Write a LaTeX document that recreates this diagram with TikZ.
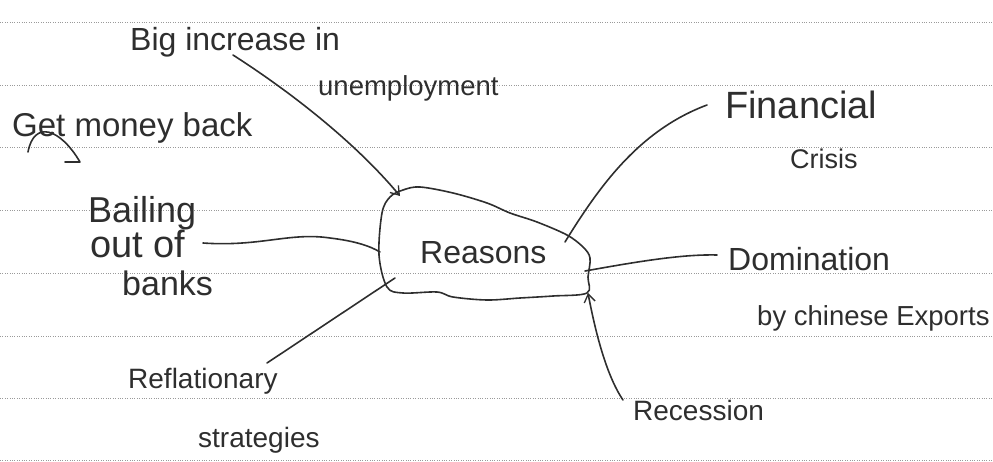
\documentclass[tikz,border=0pt]{standalone}
\usepackage{fontspec}
\setmainfont{Liberation Sans}
\usetikzlibrary{arrows.meta}
\definecolor{ink}{HTML}{2E2E2E}
\definecolor{rulec}{HTML}{9A9A9A}
\newcommand\hsz[1]{\fontsize{#1}{#1}\selectfont}
\begin{document}
\begin{tikzpicture}[x=1pt,y=-1pt,
  hand/.style={anchor=base west, inner sep=0pt, text=ink},
  link/.style={draw=ink, line width=1.6pt, line cap=round, line join=round},
  ruled/.style={draw=rulec, line width=0.8pt, dash pattern=on 0.8pt off 1.6pt},
  barb/.style={-{Straight Barb[length=8pt,width=11pt,line width=1.3pt]}}]
\useasboundingbox (0,0) rectangle (993,461);
\foreach \yy in {22,85,147,210,273,336,398,460} \draw[ruled] (0,\yy) -- (993,\yy);

% central blob
\draw[link] plot[smooth cycle, tension=0.55] coordinates {(382,213) (390,197) (403,190) (420,187) (453,193) (487,203) (510,213) (537,222) (567,235) (583,247) (590,258) (588,277) (587,293) (553,296) (520,298) (487,300) (453,297) (437,292) (403,293) (387,287) (379,255)};
\node[hand] (reasons) at (420,263) {\hsz{32}Reasons};

% texts
\node[hand] (big1) at (130,50) {\hsz{32}Big increase in};
\node[hand] (big2) at (318,95) {\hsz{27.5}unemployment};
\node[hand] (get) at (12,136) {\hsz{33}Get money back};
\node[hand] (bail1) at (88,222) {\hsz{36}Bailing};
\node[hand] (bail2) at (90,257) {\hsz{38}out of};
\node[hand] (bail3) at (122,295) {\hsz{34}banks};
\node[hand] (refl1) at (128,388) {\hsz{28}Reflationary};
\node[hand] (refl2) at (198,447) {\hsz{28}strategies};
\node[hand] (fin1) at (725,118) {\hsz{38}Financial};
\node[hand] (fin2) at (790,168) {\hsz{27}Crisis};
\node[hand] (dom1) at (728,270) {\hsz{32}Domination};
\node[hand] (dom2) at (757,325) {\hsz{27.5}by chinese Exports};
\node[hand] (rec) at (633,420) {\hsz{28}Recession};

% attachment points on the blob
\coordinate (aU) at (400,196);
\coordinate (aF) at (565,242);
\coordinate (aD) at (585,271);
\coordinate (aR) at (588,293);
\coordinate (aB) at (380,252);
\coordinate (aS) at (395,278);
% attachment points at the texts
\coordinate (sU) at (233,55);
\coordinate (sG1) at (28,152);
\coordinate (sG2) at (80,162);
\coordinate (sG3) at (65,162);
\coordinate (sB) at (203,243);
\coordinate (sS) at (267,363);
\coordinate (sF) at (707,105);
\coordinate (sD) at (717,255);
\coordinate (sR) at (623,400);

% connectors
\draw[link,barb] (sU) .. controls (300,98) and (360,148) .. (aU);
\draw[link] (sG1) .. controls (34,120) and (60,128) .. (sG2) -- (sG3);
\draw[link] (sB) .. controls (260,247) and (290,232) .. (330,238) .. controls (355,241) and (370,246) .. (aB);
\draw[link] (sS) -- (aS);
\draw[link] (aF) .. controls (600,185) and (640,130) .. (sF);
\draw[link] (aD) .. controls (630,263) and (680,254) .. (sD);
\draw[link,barb] (sR) .. controls (606,375) and (595,330) .. (aR);
\end{tikzpicture}
\end{document}
